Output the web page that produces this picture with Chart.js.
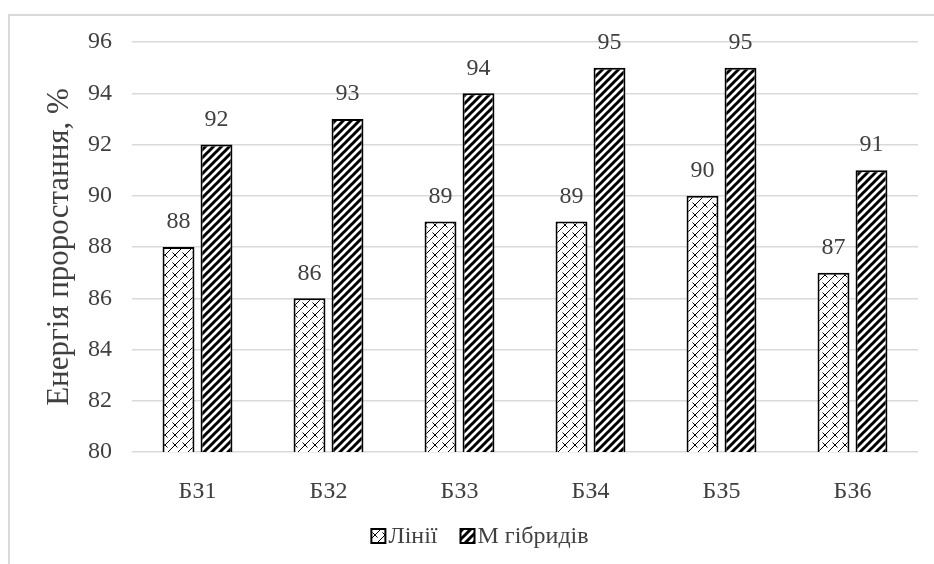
<!DOCTYPE html>
<html>
<head>
<meta charset="utf-8">
<script src="https://cdn.jsdelivr.net/npm/chart.js@4.4.1/dist/chart.umd.min.js"></script>
<style>
  html, body { margin: 0; padding: 0; background: #fff; }
  #wrap { position: relative; width: 934px; height: 564px; overflow: hidden; }
  #frame { position: absolute; left: 8px; top: 14px; width: 940px; height: 560px;
           border-top: 2px solid #d9d9d9; border-left: 2px solid #d9d9d9; }
  canvas { position: absolute; left: 0; top: 0; }
</style>
</head>
<body>
<div id="wrap">
  <div id="frame"></div>
  <canvas id="chart" width="934" height="564"></canvas>
</div>
<script>
const categories = ["БЗ1", "БЗ2", "БЗ3", "БЗ4", "БЗ5", "БЗ6"];
const lines = [88, 86, 89, 89, 90, 87];
const hybrids = [92, 93, 94, 95, 95, 91];
const seriesNames = ["Лінії", "М гібридів"];
const yTicks = [80, 82, 84, 86, 88, 90, 92, 94, 96];

// diagonal brick pattern for "Лінії"
function brickPattern() {
  const c = document.createElement("canvas");
  c.width = 10; c.height = 10;
  const g = c.getContext("2d");
  g.fillStyle = "#fff";
  g.fillRect(0, 0, 10, 10);
  g.strokeStyle = "#000";
  g.lineWidth = 1;
  g.beginPath();
  g.moveTo(0, 10); g.lineTo(10, 0);
  g.moveTo(-5, 5); g.lineTo(5, -5);
  g.moveTo(5, 15); g.lineTo(15, 5);
  g.moveTo(2.5, 2.5); g.lineTo(7.5, 7.5);
  g.stroke();
  return g.createPattern(c, "repeat");
}

// wide upward diagonal stripes for "М гібридів"
function stripePattern() {
  const c = document.createElement("canvas");
  c.width = 8; c.height = 8;
  const g = c.getContext("2d");
  g.fillStyle = "#fff";
  g.fillRect(0, 0, 8, 8);
  g.strokeStyle = "#000";
  g.lineWidth = 3;
  g.beginPath();
  g.moveTo(-2, 10); g.lineTo(10, -2);
  g.moveTo(-6, 6); g.lineTo(6, -6);
  g.moveTo(2, 14); g.lineTo(14, 2);
  g.stroke();
  return g.createPattern(c, "repeat");
}

const font = "'Liberation Serif', 'Times New Roman', serif";
const txt = "#404040";
Chart.defaults.font.family = font;
Chart.defaults.color = txt;

const valueLabels = {
  id: "valueLabels",
  afterDatasetsDraw(chart) {
    const ctx = chart.ctx;
    ctx.save();
    ctx.font = "24px " + font;
    ctx.fillStyle = txt;
    ctx.textAlign = "center";
    ctx.textBaseline = "middle";
    chart.data.datasets.forEach((ds, i) => {
      chart.getDatasetMeta(i).data.forEach((bar, j) => {
        ctx.fillText(ds.data[j], bar.x, bar.y - 25);
      });
    });
    ctx.restore();
  }
};

// bottom legend in serif with tight box/text gap, like the original
const serifLegend = {
  id: "serifLegend",
  afterDraw(chart) {
    const ctx = chart.ctx;
    const box = 14, gap = 3, itemGap = 23, cy = 536, centerX = 480;
    ctx.save();
    ctx.font = "24px " + font;
    ctx.textBaseline = "middle";
    const items = chart.data.datasets.map(ds => ({ ds, w: box + gap + ctx.measureText(ds.label).width }));
    let x = centerX - (items.reduce((s, it) => s + it.w, 0) + itemGap * (items.length - 1)) / 2;
    items.forEach(({ ds, w }) => {
      ctx.fillStyle = ds.backgroundColor;
      ctx.fillRect(x, cy - box / 2, box, box);
      ctx.strokeStyle = "#000";
      ctx.lineWidth = 2;
      ctx.strokeRect(x, cy - box / 2, box, box);
      ctx.fillStyle = txt;
      ctx.fillText(ds.label, x + box + gap, cy + 1);
      x += w + itemGap;
    });
    ctx.restore();
  }
};

new Chart(document.getElementById("chart"), {
  type: "bar",
  data: {
    labels: categories,
    datasets: [
      { label: seriesNames[0], data: lines, backgroundColor: brickPattern(),
        borderColor: "#000", borderWidth: 2, borderSkipped: false },
      { label: seriesNames[1], data: hybrids, backgroundColor: stripePattern(),
        borderColor: "#000", borderWidth: 2, borderSkipped: false }
    ]
  },
  options: {
    responsive: false,
    animation: false,
    devicePixelRatio: 1,
    layout: { padding: { left: 44, right: 16, top: 42, bottom: 52 } },
    datasets: { bar: { categoryPercentage: 0.58, barPercentage: 0.84 } },
    plugins: {
      legend: { display: false },
      tooltip: { enabled: false }
    },
    scales: {
      x: {
        grid: { display: false },
        border: { display: false },
        ticks: { font: { family: font, size: 24 }, color: txt, padding: 17 },
        afterFit: axis => { axis.height = 60; }
      },
      y: {
        min: 80,
        max: 96,
        afterBuildTicks: axis => { axis.ticks = yTicks.map(v => ({ value: v })); },
        afterFit: axis => { axis.width = 88; },
        grid: { color: "#d9d9d9", lineWidth: 1.5, drawTicks: false },
        border: { display: false },
        ticks: { font: { family: font, size: 24 }, color: txt, padding: 20 },
        title: {
          display: true,
          text: "Енергія проростання, %",
          font: { family: font, size: 31, lineHeight: 1 },
          color: txt,
          padding: { top: 0, bottom: 0 }
        }
      }
    }
  },
  plugins: [valueLabels, serifLegend]
});
</script>
</body>
</html>
